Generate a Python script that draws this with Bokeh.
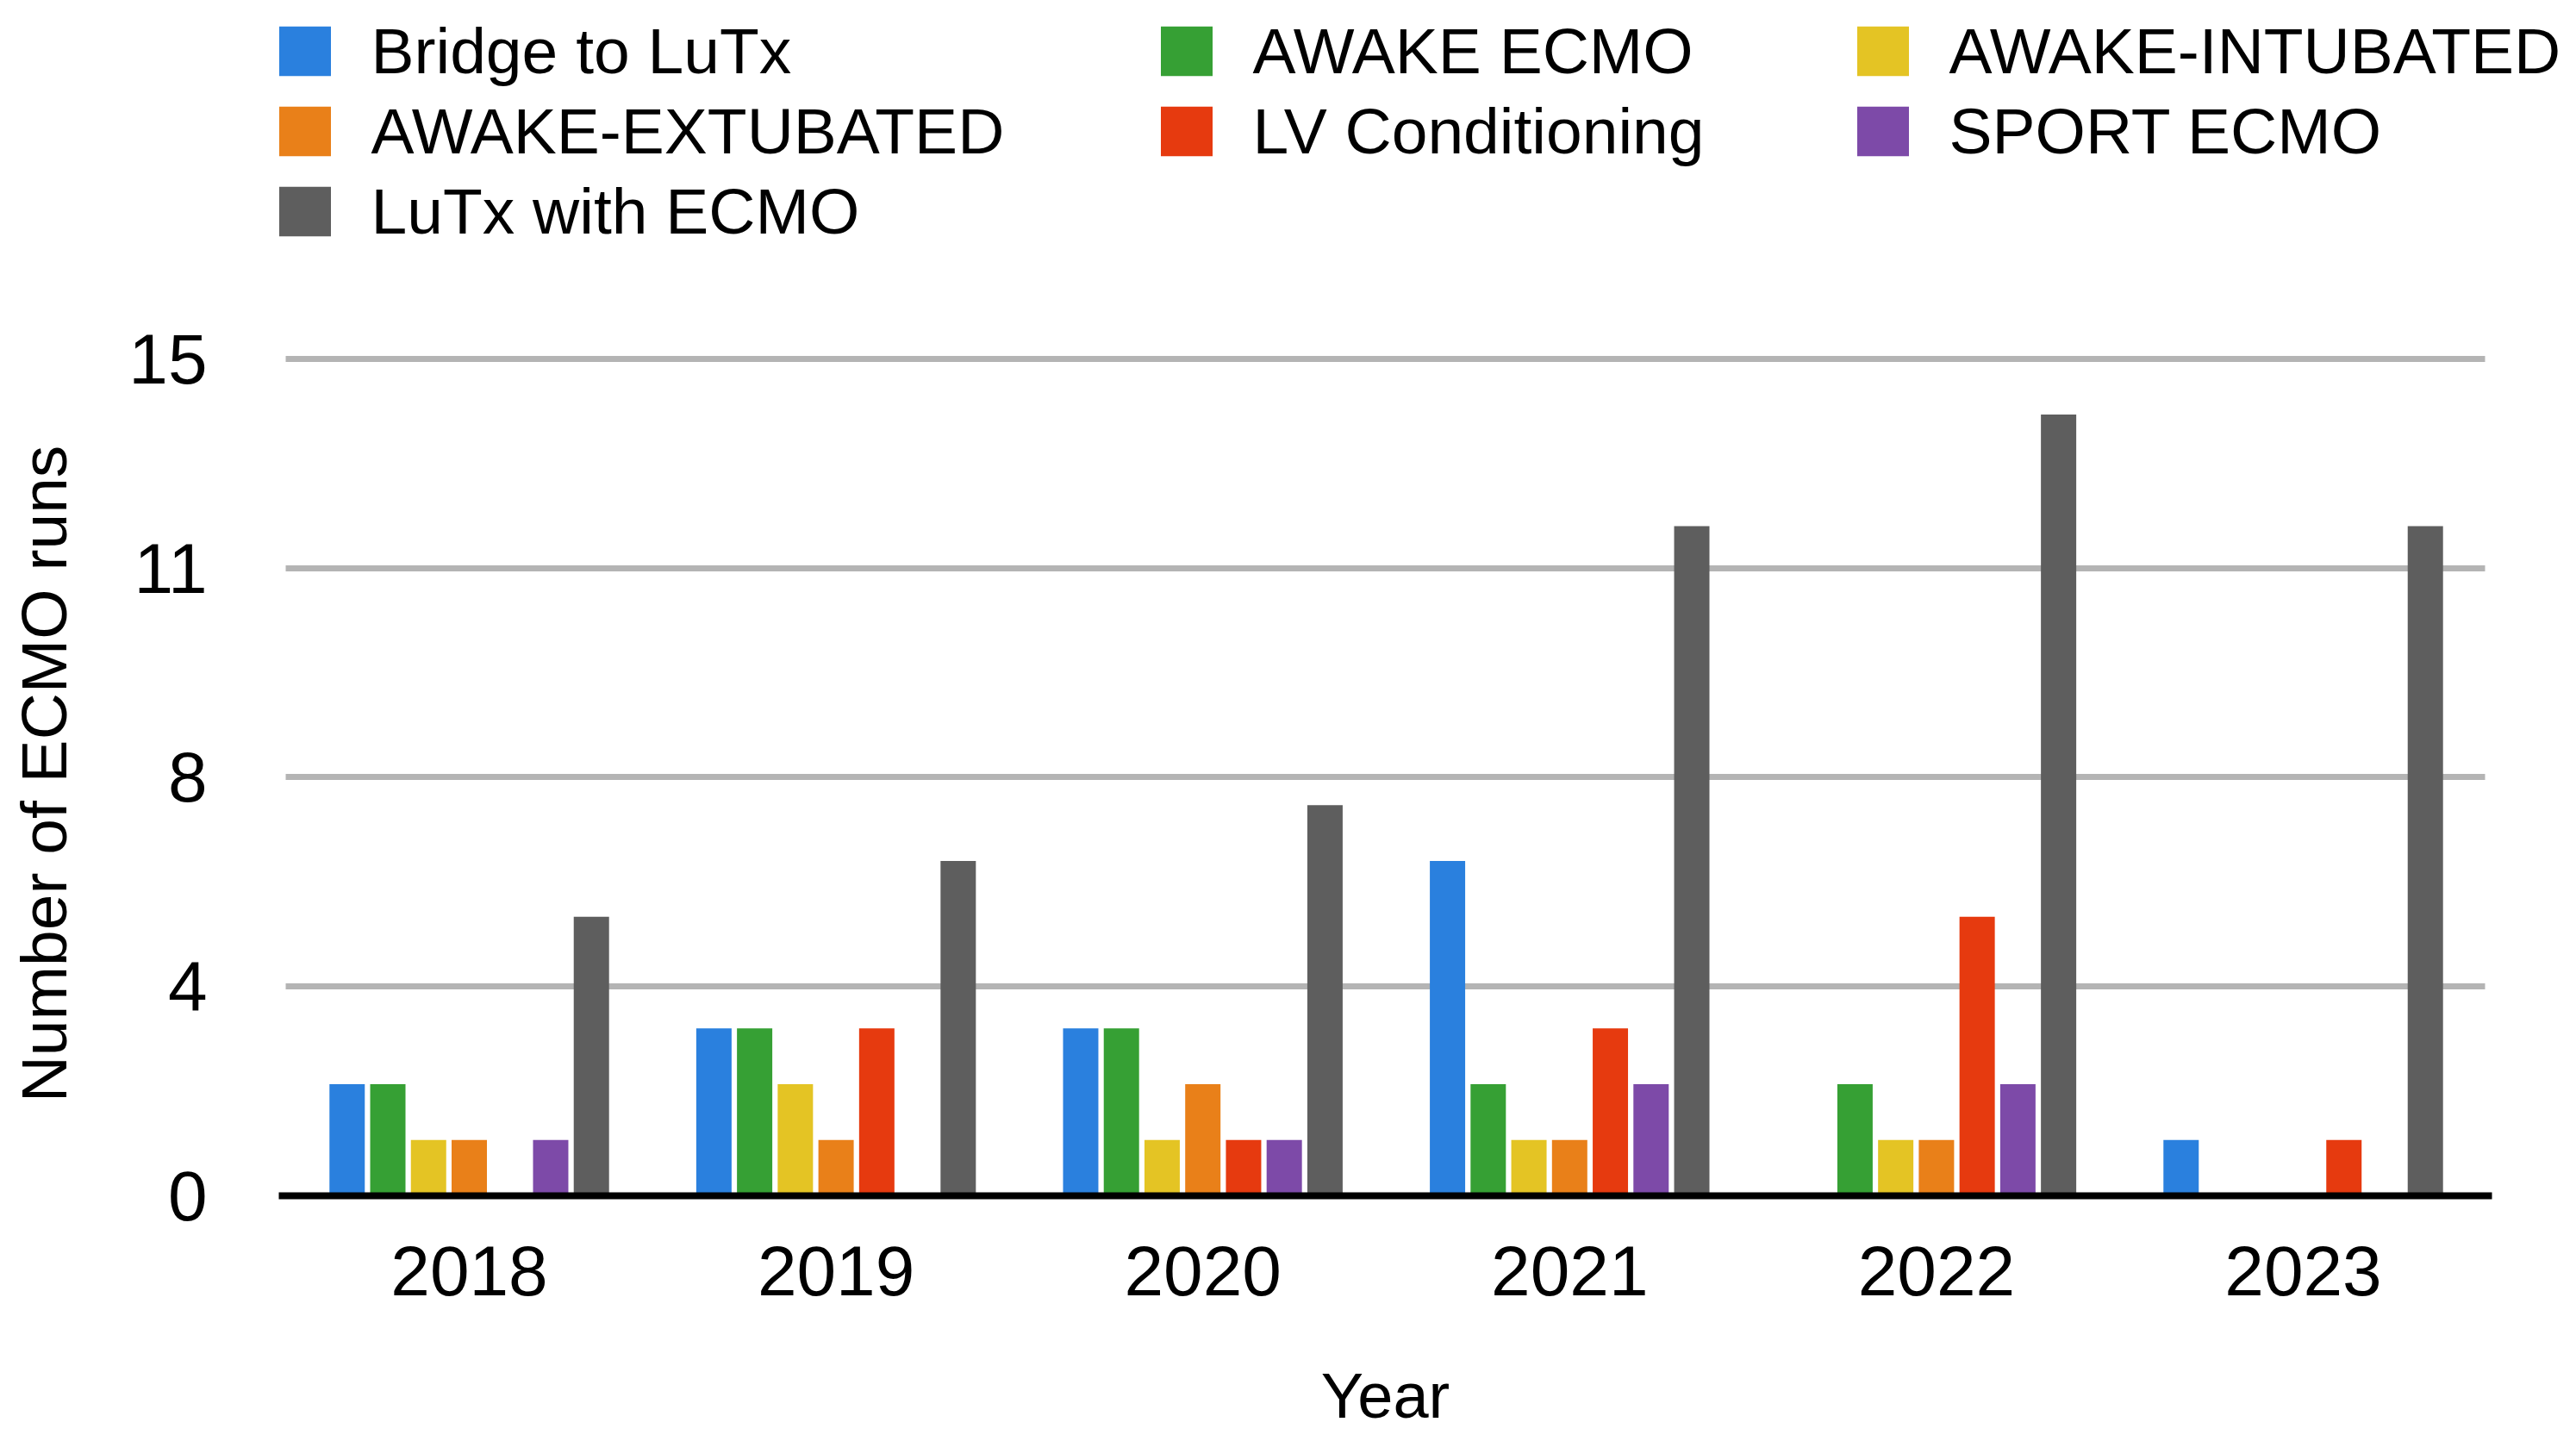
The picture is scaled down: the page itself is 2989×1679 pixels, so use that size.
from bokeh.plotting import figure
from bokeh.layouts import column
from bokeh.models import ColumnDataSource, FixedTicker, Legend, LegendItem, Range1d
from bokeh.transform import dodge
from bokeh.embed import file_html
from bokeh.resources import INLINE

years = ["2018", "2019", "2020", "2021", "2022", "2023"]
series_names = ["Bridge to LuTx", "AWAKE ECMO", "AWAKE-INTUBATED", "AWAKE-EXTUBATED",
                "LV Conditioning", "SPORT ECMO", "LuTx with ECMO"]
bridge_to_lutx = [2, 3, 3, 6, 0, 1]
awake_ecmo = [2, 3, 3, 2, 2, 0]
awake_intubated = [1, 2, 1, 1, 1, 0]
awake_extubated = [1, 1, 2, 1, 1, 0]
lv_conditioning = [0, 3, 1, 3, 5, 1]
sport_ecmo = [1, 0, 1, 2, 2, 0]
lutx_with_ecmo = [5, 6, 7, 12, 14, 12]
y_tick_values = [0, 3.75, 7.5, 11.25, 15]
y_tick_labels = ["0", "4", "8", "11", "15"]

colors = ["#2a80de", "#36a034", "#e4c424", "#e98019", "#e63a0f", "#7d4aa8", "#5e5e5e"]
keys = ["bridge", "awake", "intub", "extub", "lv", "sport", "lutx"]

year_index = list(range(len(years)))
source = ColumnDataSource(dict(
    xi=year_index, year=years, bridge=bridge_to_lutx, awake=awake_ecmo, intub=awake_intubated,
    extub=awake_extubated, lv=lv_conditioning, sport=sport_ecmo, lutx=lutx_with_ecmo))

FONT = "Liberation Sans"
W, H = 2980, 1670
LEG_H = 300               # height of the legend strip above the chart
# --- layout (screen pixels, whole page) ---
frame_left = 323          # left end of the x axis line
axis_right = 2891         # right end of the x axis line
first_center = 544        # centre of first year group
group_px = 425.6          # distance between year groups
zero_y = 1387             # screen y of value 0
y15 = 416                 # screen y of value 15
top_pad = 0.12            # data units above 15 so the top grid line is not clipped

px_per_unit = (zero_y - y15) / 15.0
y_end = 15 + top_pad
frame_top = y15 - top_pad * px_per_unit
H2 = H - LEG_H
x_start = -(first_center - frame_left) / group_px
x_end = x_start + (axis_right - frame_left) / group_px

p = figure(width=W, height=H2, x_range=Range1d(x_start, x_end), y_range=Range1d(0, y_end),
           output_backend="svg", toolbar_location=None,
           min_border_left=frame_left, min_border_right=W - axis_right,
           min_border_top=int(round(frame_top - LEG_H)), min_border_bottom=H - zero_y)
p.outline_line_color = None
p.background_fill_color = "white"
p.border_fill_color = "white"

slot = 0.111
bar_w = 0.0963
for i, k in enumerate(keys):
    p.vbar(x=dodge("xi", (i - 3) * slot), top=k, width=bar_w,
           source=source, fill_color=colors[i], line_color=None)

# grid
p.xgrid.grid_line_color = None
p.ygrid.grid_line_color = "#b4b4b4"
p.ygrid.grid_line_width = 7
g = p.ygrid[0]
if "cross_bounds" in g.properties():
    g.cross_bounds = (x_start + 8 / group_px, x_end - 8 / group_px)

# y axis
p.yaxis.ticker = FixedTicker(ticks=y_tick_values)
p.yaxis.major_label_overrides = {v: l for v, l in zip(y_tick_values, y_tick_labels)}
p.yaxis.axis_line_color = None
p.yaxis.major_tick_line_color = None
p.yaxis.minor_tick_line_color = None
p.yaxis.major_tick_out = 0
p.yaxis.major_tick_in = 0
p.yaxis.major_label_standoff = 83
p.yaxis.major_label_text_font = FONT
p.yaxis.major_label_text_font_size = "82px"
p.yaxis.major_label_text_color = "black"
p.yaxis.axis_label = "Number of ECMO runs"
p.yaxis.axis_label_text_font = FONT
p.yaxis.axis_label_text_font_size = "75px"
p.yaxis.axis_label_text_font_style = "normal"
p.yaxis.axis_label_text_color = "black"
p.yaxis.axis_label_standoff = 53

# x axis
p.xaxis.ticker = FixedTicker(ticks=year_index)
p.xaxis.major_label_overrides = {i: y for i, y in zip(year_index, years)}
p.xaxis.axis_line_color = "black"
p.xaxis.axis_line_width = 8
p.xaxis.major_tick_line_color = None
p.xaxis.minor_tick_line_color = None
p.xaxis.major_tick_out = 0
p.xaxis.major_tick_in = 0
p.xaxis.major_label_standoff = 58
p.xaxis.major_label_text_font = FONT
p.xaxis.major_label_text_font_size = "82px"
p.xaxis.major_label_text_color = "black"
p.xaxis.axis_label = "Year"
p.xaxis.axis_label_text_font = FONT
p.xaxis.axis_label_text_font_size = "74px"
p.xaxis.axis_label_text_font_style = "normal"
p.xaxis.axis_label_text_color = "black"
p.xaxis.axis_label_standoff = 72

# legend strip: a frame-only figure holding three legend columns
leg_fig = figure(width=W, height=LEG_H, x_range=Range1d(0, 1), y_range=Range1d(0, 1),
                 output_backend="svg", toolbar_location=None,
                 x_axis_location=None, y_axis_location=None,
                 min_border_left=0, min_border_right=0, min_border_top=0, min_border_bottom=0)
leg_fig.outline_line_color = None
leg_fig.xgrid.visible = False
leg_fig.ygrid.visible = False
for fig in (leg_fig, p):
    if "frame_align" in fig.properties():
        fig.frame_align = False
# legend-only swatch renderers (a single zero-height entry each, nothing visible is drawn)
swatch_src = ColumnDataSource(dict(x=[0.5], top=[0]))
swatches = [leg_fig.vbar(x="x", top="top", width=0.01, source=swatch_src,
                         fill_color=c, line_color=None) for c in colors]

columns = [[0, 3, 6], [1, 4], [2, 5]]
col_x = [315.5, 1338.5, 2146.5]
row_h = 93
legend_top = 12
for col, vx in zip(columns, col_x):
    items = [LegendItem(label=series_names[i], renderers=[swatches[i]]) for i in col]
    vy = LEG_H - legend_top - row_h * len(col)
    leg = Legend(items=items, location=(vx, vy), orientation="vertical",
                 padding=0, margin=0, spacing=0,
                 glyph_width=75, glyph_height=72, label_standoff=40, label_height=row_h,
                 label_text_font=FONT, label_text_font_size="75px", label_text_color="black",
                 border_line_color=None, background_fill_alpha=0)
    leg_fig.add_layout(leg, "center")

layout = column(leg_fig, p, spacing=0)
open("out.html", "w").write(file_html(layout, INLINE))
